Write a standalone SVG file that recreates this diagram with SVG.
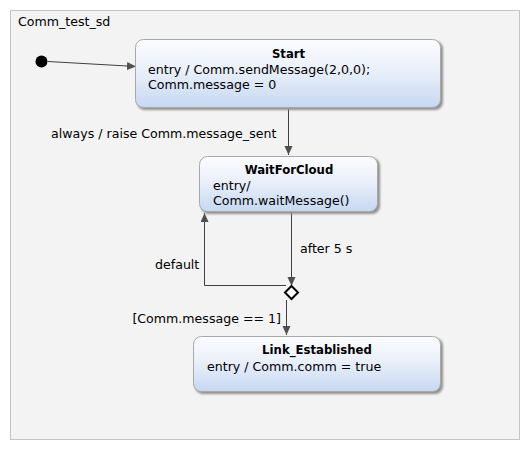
<svg xmlns="http://www.w3.org/2000/svg" width="531" height="451" viewBox="0 0 531 451">
<defs>
<linearGradient id="g" x1="0" y1="0" x2="0" y2="1">
<stop offset="0" stop-color="#fbfcfe"/>
<stop offset="0.45" stop-color="#eaf0fa"/>
<stop offset="1" stop-color="#c6d8f1"/>
</linearGradient>
<filter id="sh" x="-10%" y="-10%" width="130%" height="140%">
<feGaussianBlur stdDeviation="1"/>
</filter>
<marker id="ar" markerWidth="10" markerHeight="10" refX="9" refY="4" orient="auto" markerUnits="userSpaceOnUse">
<path d="M0,0 L9,4 L0,8 z" fill="#505050"/>
</marker>
</defs>
<style>
text{font-family:"DejaVu Sans",Verdana,sans-serif;font-size:12.6px;fill:#000}
.t{font-weight:bold;font-size:11.7px;text-anchor:middle}
.box{fill:url(#g);stroke:#a8a8a8;stroke-width:1}
.shd{fill:#909090;filter:url(#sh)}
.ln{fill:none;stroke:#404040;stroke-width:1}
</style>
<rect width="531" height="451" fill="#ffffff"/>
<g id="frame">
<rect x="10.5" y="10.5" width="509" height="429" fill="#f3f3f3" stroke="#c4c4c4"/>
<text x="18" y="26">Comm_test_sd</text>
</g>
<g id="connectors">
<path class="ln" d="M48,61.5 L136,66.5" marker-end="url(#ar)"/>
<path class="ln" d="M288.5,109 L288.5,155" marker-end="url(#ar)"/>
<text x="51" y="138">always / raise Comm.message_sent</text>
<path class="ln" d="M291.5,212 L291.5,286" marker-end="url(#ar)"/>
<text x="300" y="253">after 5 s</text>
<path class="ln" d="M286,285.5 L204.5,285.5 L204.5,213" marker-end="url(#ar)"/>
<text x="155" y="269">default</text>
<path class="ln" d="M286.5,300 L286.5,335" marker-end="url(#ar)"/>
<text x="281" y="323" text-anchor="end">[Comm.message == 1]</text>
</g>
<g id="initial">
<circle cx="41.5" cy="61.5" r="6" fill="#000"/>
</g>
<g id="Start">
<rect class="shd" x="137" y="41" width="306" height="69" rx="8"/>
<rect class="box" x="135.5" y="39.5" width="305" height="68" rx="8"/>
<text class="t" x="288.5" y="58">Start</text>
<text x="148" y="74">entry / Comm.sendMessage(2,0,0);</text>
<text x="148" y="89">Comm.message = 0</text>
</g>
<g id="WaitForCloud">
<rect class="shd" x="201" y="158" width="179" height="56" rx="8"/>
<rect class="box" x="199.5" y="156.5" width="178" height="55" rx="8"/>
<text class="t" x="289" y="174">WaitForCloud</text>
<text x="213" y="189.5">entry/</text>
<text x="213" y="204.5">Comm.waitMessage()</text>
</g>
<g id="choice">
<path d="M291.5,286 L298,292.5 L291.5,299 L285,292.5 z" fill="#fff" stroke="#000" stroke-width="2"/>
</g>
<g id="Link_Established">
<rect class="shd" x="195" y="338" width="248" height="56" rx="8"/>
<rect class="box" x="193.5" y="336.5" width="247" height="55" rx="8"/>
<text class="t" x="317" y="354">Link_Established</text>
<text x="207" y="371">entry / Comm.comm = true</text>
</g>
</svg>
